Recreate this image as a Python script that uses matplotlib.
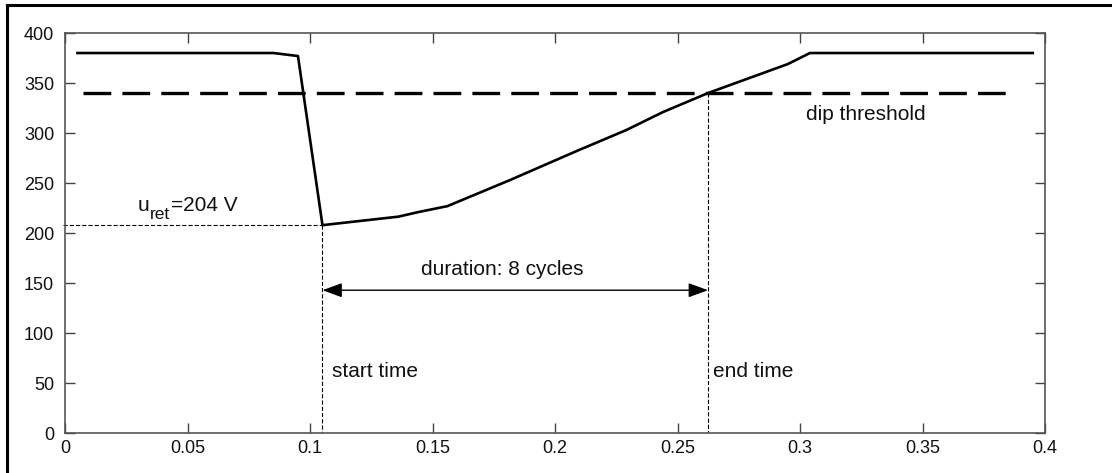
import matplotlib
matplotlib.use('Agg')
import matplotlib.pyplot as plt
from matplotlib.lines import Line2D

plt.rcParams['font.family'] = ['Liberation Sans', 'DejaVu Sans']
plt.rcParams['lines.scale_dashes'] = False

# voltage curve during the dip
t = [0.005, 0.085, 0.095, 0.105, 0.136, 0.144, 0.156, 0.1815, 0.2087, 0.229, 0.244, 0.2624, 0.295, 0.304, 0.395]
v = [380, 380, 377, 208, 216.5, 221, 227, 253, 282, 303, 321, 340, 369, 380, 380]

threshold = 340
thr_t = [0.0073, 0.386]
u_ret = 208
t_start = 0.105
t_end = 0.2624
arrow_v = 143

xticks = [0, 0.05, 0.1, 0.15, 0.2, 0.25, 0.3, 0.35, 0.4]
xlabels = ['0', '0.05', '0.1', '0.15', '0.2', '0.25', '0.3', '0.35', '0.4']
yticks = [0, 50, 100, 150, 200, 250, 300, 350, 400]

fig = plt.figure(figsize=(11.12, 4.73), dpi=100)
ax = fig.add_axes([0.0587, 0.0839, 0.8811, 0.8463])

ax.plot(t, v, color='black', lw=1.9, solid_joinstyle='round')
ax.plot(thr_t, [threshold, threshold], color='black', lw=2.4, dashes=(20, 8))

# thin helper lines
ax.plot([-0.001, t_start], [u_ret, u_ret], color='black', lw=0.8, dashes=(3, 1.5), clip_on=False)
ax.plot([t_start, t_start], [u_ret, 0], color='black', lw=0.8, dashes=(3, 1.5))
ax.plot([t_end, t_end], [threshold, 0], color='black', lw=0.8, dashes=(3, 1.5))

ax.annotate('', xy=(t_start, arrow_v), xytext=(t_end, arrow_v),
            arrowprops=dict(arrowstyle='<|-|>,head_length=0.6,head_width=0.22',
                            mutation_scale=20, color='black', lw=1,
                            shrinkA=0, shrinkB=0))

# u_ret label built from pieces so the subscript sits low like the original
ax.annotate('u', xy=(0.0297, 222), xytext=(0, 0), textcoords='offset points',
            fontsize=15, ha='left', va='baseline', color='#111111')
ax.annotate('ret', xy=(0.0297, 222), xytext=(8.4, -5.8), textcoords='offset points',
            fontsize=12.5, ha='left', va='baseline', color='#111111')
ax.annotate('=204 V', xy=(0.0297, 222), xytext=(23.5, 0), textcoords='offset points',
            fontsize=15, ha='left', va='baseline', color='#111111')

ax.text(0.1784, 158, 'duration: 8 cycles', fontsize=15, ha='center', va='baseline', color='#111111')
ax.text(0.3026, 313, 'dip threshold', fontsize=15, ha='left', va='baseline', color='#111111')
ax.text(0.1087, 56, 'start time', fontsize=15, ha='left', va='baseline', color='#111111')
ax.text(0.2645, 56, 'end time', fontsize=15, ha='left', va='baseline', color='#111111')

ax.set_xlim(0, 0.4)
ax.set_ylim(0, 400)
ax.set_xticks(xticks)
ax.set_xticklabels(xlabels)
ax.set_yticks(yticks)
ax.tick_params(direction='in', length=7.2, width=1, color='#444444',
               top=True, right=True, labelsize=13, labelcolor='#111111')
ax.tick_params(axis='y', pad=8)
ax.tick_params(axis='x', pad=5)
for s in ax.spines.values():
    s.set_color('#555555')
    s.set_linewidth(1.2)

# outer frame (left and top edges visible)
fig.add_artist(Line2D([6.5 / 1112, 6.5 / 1112], [0, 1 - 5 / 473], color='black', lw=2.2, transform=fig.transFigure))
fig.add_artist(Line2D([6.5 / 1112, 1], [1 - 5 / 473, 1 - 5 / 473], color='black', lw=2.2, transform=fig.transFigure))

fig.savefig('out.png', dpi=100)
